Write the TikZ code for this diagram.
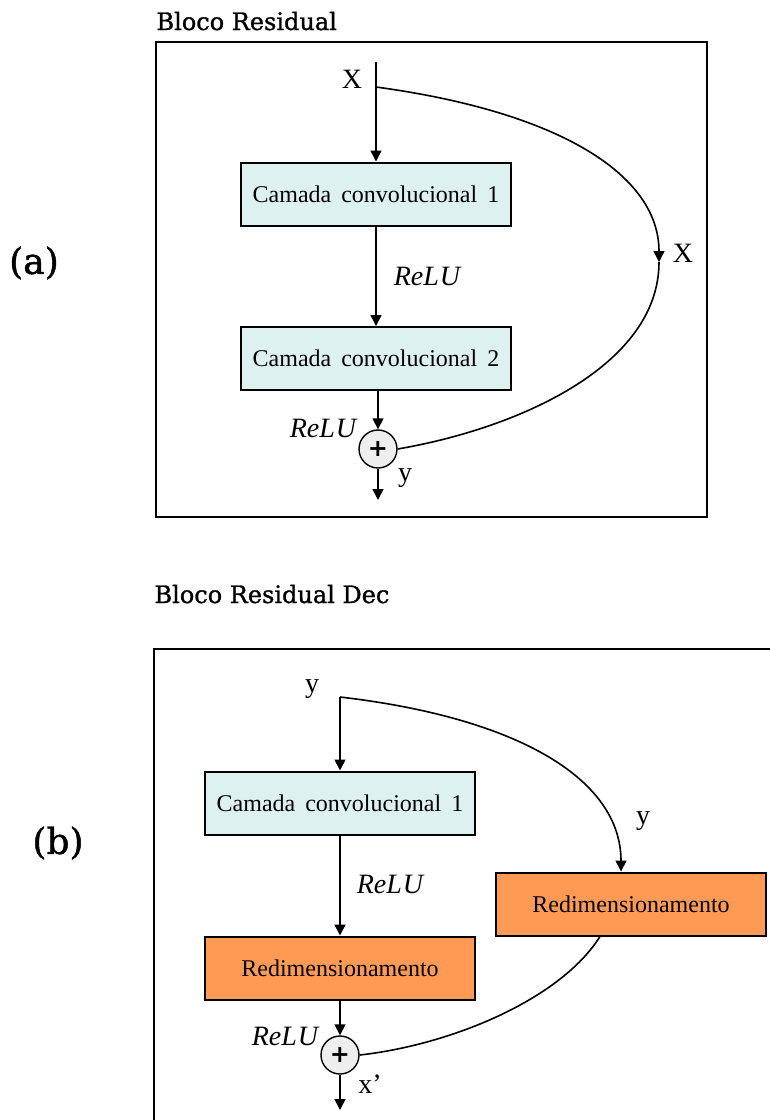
\documentclass[tikz,border=0pt]{standalone}
\usepackage{fontspec}
\setmainfont{Liberation Serif}
\newfontfamily\slabfont[FakeBold=1.2]{DejaVu Serif}
\newfontfamily\plusfont{DejaVu Sans}
\usetikzlibrary{arrows.meta,calc}
\definecolor{convfill}{HTML}{DDF1F1}
\definecolor{resizefill}{HTML}{FF9A55}
\definecolor{sumfill}{HTML}{EEEEEE}
\tikzset{
  layerbox/.style={draw, line width=2pt, minimum width=270pt, minimum height=63pt,
    inner sep=0pt, font=\fontsize{24}{26}\selectfont},
  convbox/.style={layerbox, fill=convfill},
  resizebox/.style={layerbox, fill=resizefill},
  sumnode/.style={draw, circle, line width=1.4pt, fill=sumfill, minimum size=38pt,
    inner sep=0pt, font=\plusfont\bfseries\fontsize{24}{24}\selectfont},
  flow/.style={line width=1.6pt, -{Triangle[length=11pt,width=11pt]}},
  wire/.style={line width=1.6pt},
  frame/.style={line width=2.2pt},
  title/.style={anchor=base west, font=\slabfont\fontsize{24}{28}\selectfont},
  panel/.style={font=\slabfont\fontsize{36}{40}\selectfont},
  varlabel/.style={font=\fontsize{28}{30}\selectfont},
  actlabel/.style={font=\fontsize{28}{30}\selectfont\itshape},
}
\newcommand{\relu}{ReL\kern1pt U}
\begin{document}
\begin{tikzpicture}[x=1pt,y=-1pt]
\useasboundingbox (0,0) rectangle (769,1120);

% ---------- (a) residual block ----------
\node[panel] (pa) at (34,263) {(a)};
\node[title] (ta) at (153,30) {Bloco Residual};
\draw[frame] (156,42) rectangle (707,517);

\coordinate (xin) at (376,62);
\coordinate (xsplit) at (376,87);
\coordinate (xmid) at (659,262);
\node[convbox] (c1) at (376,194) {Camada\, convolucional\, 1};
\node[convbox] (c2) at (376,358.5) {Camada\, convolucional\, 2};
\node[sumnode] (s1) at (378,449) {+};
\coordinate (yout) at (378,500);

\node[varlabel] (lx1) at (352,79) {X};
\node[varlabel] (lx2) at (683,253) {X};
\node[actlabel] (r1) at (427,276) {\relu};
\node[actlabel] (r2) at (323,428) {\relu};
\node[varlabel] (ly1) at (405,478) {y};

\draw[flow] (xin) -- (c1.north);
\draw[flow] (c1.south) -- (c2.north);
\draw[flow] (c2.south -| s1.north) -- (s1.north);
\draw[flow] (s1.south) -- (yout);
\draw[flow] (xsplit) .. controls (560,112) and (659,175) .. (xmid);
\draw[wire] (xmid) .. controls (659,365) and (520,428) .. (s1.east);

% ---------- (b) residual decoder block ----------
\node[panel] (pb) at (58,843) {(b)};
\node[title] (tb) at (151,603) {Bloco Residual Dec};
\draw[frame] (154,1121) -- (154,649) -- (770,649);

\coordinate (yin) at (340,697);
\node[convbox] (d1) at (340,803) {Camada\, convolucional\, 1};
\node[resizebox] (d2) at (340,968) {Redimensionamento};
\node[resizebox] (d3) at (631,904) {Redimensionamento};
\node[sumnode] (s2) at (340,1055) {+};
\coordinate (xout) at (340,1110);

\node[varlabel] (ly2) at (312,689) {y};
\node[varlabel] (ly3) at (643,821) {y};
\node[actlabel] (r3) at (390,884) {\relu};
\node[actlabel] (r4) at (285,1036) {\relu};
\node[varlabel] (lxp) at (370,1084) {x'};

\draw[flow] (yin) -- (d1.north);
\draw[flow] (d1.south) -- (d2.north);
\draw[flow] (d2.south) -- (s2.north);
\draw[flow] (s2.south) -- (xout);
\draw[flow] (yin) .. controls (520,718) and (621,780) .. ([xshift=-10pt]d3.north);
\draw[wire] ([xshift=-31pt]d3.south) .. controls (560,1000) and (450,1045) .. (s2.east);
\end{tikzpicture}
\end{document}
